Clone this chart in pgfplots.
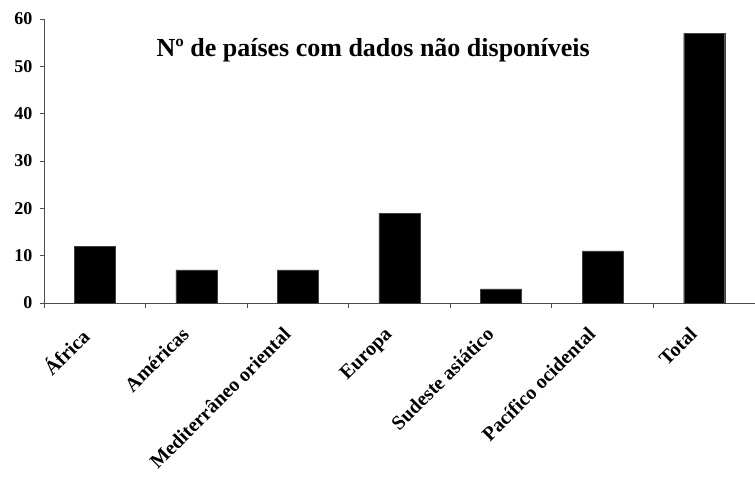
\documentclass[border=0pt]{standalone}
\usepackage{fontspec}
\setmainfont{Liberation Serif}
\usepackage{pgfplots}
\pgfplotsset{compat=1.18}
\begin{document}
\begin{tikzpicture}
\path[use as bounding box] (-44pt,-174pt) rectangle (711pt,303pt);
\begin{axis}[
  at={(0,0)}, anchor=south west,
  scale only axis, width=711pt, height=284pt,
  xmin=-0.5, xmax=6.5, ymin=0, ymax=60,
  axis x line=bottom, axis y line=left,
  axis line style={-, gray!60!black, line width=0.8pt},
  ytick={0,10,...,60},
  xtick={0,...,6},
  xticklabels={África,Américas,Mediterrâneo oriental,Europa,Sudeste asiático,Pacífico ocidental,Total},
  minor xtick={-0.5,0.5,...,6.5},
  major x tick style={draw=none},
  minor tick length=5pt,
  major tick length=4pt,
  tick align=outside,
  tick style={gray!60!black, line width=0.8pt},
  /pgf/number format/assume math mode=true,
  yticklabel style={font=\fontsize{18}{20}\selectfont\bfseries, xshift=-4pt},
  xticklabel style={font=\fontsize{20}{24}\selectfont\bfseries, yshift=-14pt, xshift=-16pt, rotate=45, anchor=north east},
  ybar, bar width=41pt,
]
\addplot[fill=black, draw=gray!50!black] coordinates {(0,12) (1,7) (2,7) (3,19) (4,3) (5,11) (6,57)};
\node[font=\fontsize{26}{30}\selectfont\bfseries] at (rel axis cs:0.463,0.89) {Nº de países com dados não disponíveis};
\end{axis}
\end{tikzpicture}
\end{document}
